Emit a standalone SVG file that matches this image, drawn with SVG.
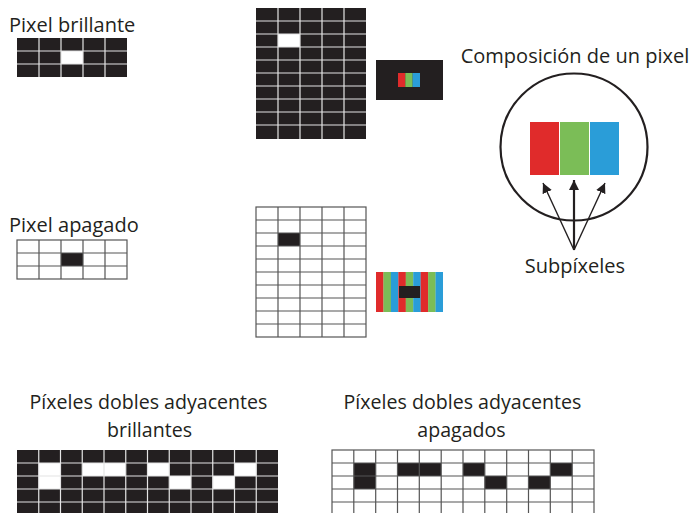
<svg xmlns="http://www.w3.org/2000/svg" width="690" height="513" viewBox="0 0 690 513">
<style>
.t{font-family:"Open Sans","Liberation Sans",sans-serif;font-size:20px;fill:#231f20}
.t2{font-size:19.6px}
.blk{fill:#231f20}
.wl{stroke:#e4e4e4;stroke-width:1.2;fill:none}
.dl{stroke:#555;stroke-width:1.2;fill:none}
.wc{fill:#fff}
.r{fill:#e02b2b}
.g{fill:#7bbd57}
.b{fill:#2a9dd8}
.arr{stroke:#231f20;fill:none}
</style>
<defs>
<marker id="ah" markerUnits="userSpaceOnUse" markerWidth="12" markerHeight="12" refX="10" refY="5" orient="auto" viewBox="0 0 12 10">
<path d="M0,0 L10,5 L0,10 Z" fill="#231f20"/>
</marker>
</defs>
<rect width="690" height="513" fill="#fff"/>

<g id="pixel-brillante">
<text class="t" x="9" y="32">Pixel brillante</text>
<rect class="blk" x="17" y="38" width="110" height="39"/>
<rect class="wc" x="61" y="51" width="22" height="13"/>
<path class="wl" d="M39,38V77M61,38V77M83,38V77M105,38V77M17,51H127M17,64H127"/>
</g>

<g id="pixel-apagado">
<text class="t" x="9" y="232">Pixel apagado</text>
<rect x="17" y="240" width="110" height="39" fill="#fff" class="dl"/>
<rect class="blk" x="61" y="253" width="22" height="13"/>
<path class="dl" d="M39,240V279M61,240V279M83,240V279M105,240V279M17,253H127M17,266H127"/>
</g>

<g id="pantalla-brillante">
<rect class="blk" x="256" y="8" width="110" height="131"/>
<rect class="wc" x="278" y="34" width="22" height="13"/>
<path class="wl" d="M278,8V139M300,8V139M322,8V139M344,8V139M256,21H366M256,34H366M256,47H366M256,60H366M256,73H366M256,86H366M256,99H366M256,112H366M256,125H366"/>
</g>

<g id="zoom-brillante">
<rect class="blk" x="376" y="60" width="67" height="40"/>
<rect class="r" x="398" y="73" width="7.4" height="14"/>
<rect class="g" x="405.3" y="73" width="7.4" height="14"/>
<rect class="b" x="412.6" y="73" width="7.4" height="14"/>
</g>

<g id="pantalla-apagada">
<rect x="256" y="207" width="110" height="130" fill="#fff" class="dl"/>
<rect class="blk" x="278" y="233" width="22" height="13"/>
<path class="dl" d="M278,207V337M300,207V337M322,207V337M344,207V337M256,220H366M256,233H366M256,246H366M256,259H366M256,272H366M256,285H366M256,298H366M256,311H366M256,324H366"/>
</g>

<g id="zoom-apagado">
<rect class="r" x="376" y="272" width="7.6" height="40"/>
<rect class="g" x="383.44" y="272" width="7.6" height="40"/>
<rect class="b" x="390.89" y="272" width="7.6" height="40"/>
<rect class="r" x="398.33" y="272" width="7.6" height="40"/>
<rect class="g" x="405.78" y="272" width="7.6" height="40"/>
<rect class="b" x="413.22" y="272" width="7.6" height="40"/>
<rect class="r" x="420.67" y="272" width="7.6" height="40"/>
<rect class="g" x="428.11" y="272" width="7.6" height="40"/>
<rect class="b" x="435.56" y="272" width="7.44" height="40"/>
<rect class="blk" x="399" y="286" width="21" height="12"/>
</g>

<g id="composicion">
<text class="t" x="575" y="62.5" text-anchor="middle">Composición de un pixel</text>
<circle cx="574" cy="147" r="73.5" fill="none" stroke="#231f20" stroke-width="2.2"/>
<rect class="r" x="530" y="122" width="29" height="53"/>
<rect class="g" x="560" y="122" width="29" height="53"/>
<rect class="b" x="590" y="122" width="29" height="53"/>
</g>

<g id="subpixeles">
<text class="t" x="575" y="273" text-anchor="middle">Subpíxeles</text>
</g>

<g id="connectors">
<line class="arr" x1="574" y1="250" x2="543" y2="183" stroke-width="1.4" marker-end="url(#ah)"/>
<line class="arr" x1="574" y1="250" x2="574" y2="180" stroke-width="2.2" marker-end="url(#ah)"/>
<line class="arr" x1="574" y1="250" x2="605" y2="183" stroke-width="1.4" marker-end="url(#ah)"/>
</g>

<g id="dobles-brillantes">
<text class="t t2" text-anchor="middle"><tspan x="148.5" y="409">Píxeles dobles adyacentes</tspan><tspan x="149.5" y="436.5">brillantes</tspan></text>
<rect class="blk" x="17" y="450" width="261" height="66"/>
<rect class="wc" x="38.75" y="463" width="21.75" height="26"/>
<rect class="wc" x="82.25" y="463" width="43.5" height="13"/>
<rect class="wc" x="147.5" y="463" width="21.75" height="13"/>
<rect class="wc" x="234.5" y="463" width="21.75" height="13"/>
<rect class="wc" x="169.25" y="476" width="21.75" height="13"/>
<rect class="wc" x="212.75" y="476" width="21.75" height="13"/>
<path class="wl" d="M38.75,450V516M60.5,450V516M82.25,450V516M104,450V516M125.75,450V516M147.5,450V516M169.25,450V516M191,450V516M212.75,450V516M234.5,450V516M256.25,450V516M17,463H278M17,476H278M17,489H278M17,502H278"/>
</g>

<g id="dobles-apagados">
<text class="t t2" text-anchor="middle"><tspan x="462.5" y="409">Píxeles dobles adyacentes</tspan><tspan x="461.5" y="436.5">apagados</tspan></text>
<rect x="332" y="450" width="262" height="66" fill="#fff" class="dl"/>
<rect class="blk" x="353.8" y="463" width="21.9" height="26"/>
<rect class="blk" x="397.5" y="463" width="43.7" height="13"/>
<rect class="blk" x="463" y="463" width="21.8" height="13"/>
<rect class="blk" x="550.3" y="463" width="21.9" height="13"/>
<rect class="blk" x="484.8" y="476" width="21.9" height="13"/>
<rect class="blk" x="528.5" y="476" width="21.8" height="13"/>
<path class="dl" d="M353.8,450V516M375.7,450V516M397.5,450V516M419.3,450V516M441.2,450V516M463,450V516M484.8,450V516M506.7,450V516M528.5,450V516M550.3,450V516M572.2,450V516M332,463H594M332,476H594M332,489H594M332,502H594"/>
</g>
</svg>
